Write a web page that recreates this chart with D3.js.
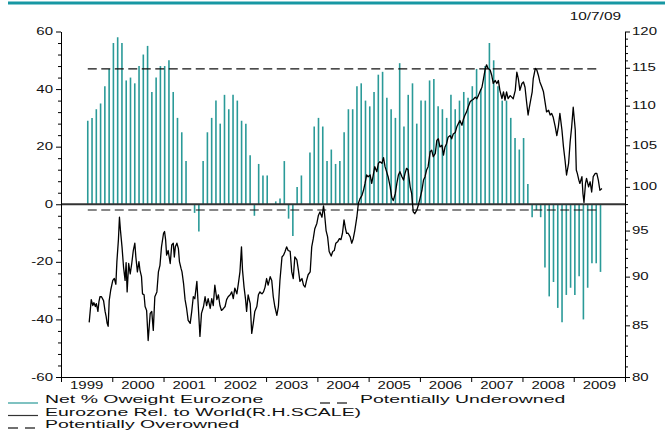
<!DOCTYPE html>
<html><head><meta charset="utf-8">
<script src="https://cdn.jsdelivr.net/npm/d3@7"></script>
<style>html,body{margin:0;padding:0;background:#fff;}svg{display:block;font-family:"Liberation Sans",Arial,sans-serif;}</style>
</head><body><svg id="c" width="665" height="430"></svg>
<script>
// ---------- DATA ----------
const dateLabel = "10/7/09";
const years = [1999,2000,2001,2002,2003,2004,2005,2006,2007,2008,2009];
const leftTicks = [-60,-40,-20,0,20,40,60];
const rightTicks = [80,85,90,95,100,105,110,115,120];
const barStartMonth = "1999-07";
// Net % overweight Eurozone, monthly from Jul 1999 to Jul 2009
const netOweight = [
 29,30,33,35,41,47,
 56,58,56,43,44,42,48,52,55,39,44,48,
 48,50,39,30,25,15,0,-3,-9.5,15,25,30,
 36,28,38,33,38,36,29,28,17,-4,14,10,
 10,0,1,2,15,-5,-11,6,10,0,18,27,
 30,27,15,19,14,15,25,33,33,41,42,36,
 34,39,45,46,37,33,30,49,27,38,42,28,
 36,36,43,43.5,34,33,30,38,33,36,39,37,
 41,47,40,48,56,50,41,36,36,30,23,19,
 23,7,-4.5,-2,-4.5,-22,-32,-27,-36,-41,-31.5,-29,
 -31.5,-25,-40,-29,-20.5,-20.5,-23.5
];
const overownedLevel = 47;
const underownedLevel = -2;
// Eurozone relative to World (right scale): [decimal year, value]
const relToWorld = [[1999.55,85.3],[1999.59,87.6],[1999.62,87.0],[1999.64,87.3],[1999.67,86.9],[1999.69,87.2],[1999.72,86.4],[1999.74,87.4],[1999.76,87.9],[1999.79,87.9],[1999.83,87.5],[1999.86,86.4],[1999.88,85.9],[1999.90,85.2],[1999.92,84.9],[1999.94,87.5],[1999.97,88.6],[2000.01,89.6],[2000.04,89.8],[2000.07,89.2],[2000.09,91.6],[2000.12,94.0],[2000.14,96.5],[2000.16,95.0],[2000.19,93.2],[2000.22,91.0],[2000.25,89.6],[2000.27,91.5],[2000.29,88.4],[2000.32,91.4],[2000.35,90.3],[2000.38,91.4],[2000.41,92.8],[2000.44,93.6],[2000.46,92.1],[2000.49,90.5],[2000.52,91.6],[2000.54,90.7],[2000.57,90.0],[2000.59,88.2],[2000.62,88.1],[2000.64,86.9],[2000.67,86.5],[2000.70,83.5],[2000.74,86.2],[2000.77,86.4],[2000.80,84.5],[2000.83,87.9],[2000.87,88.4],[2000.90,90.5],[2000.93,91.2],[2000.96,93.2],[2001.00,94.7],[2001.02,94.9],[2001.04,94.0],[2001.06,92.3],[2001.09,92.8],[2001.13,91.4],[2001.16,93.4],[2001.19,93.6],[2001.21,92.1],[2001.23,93.2],[2001.26,93.6],[2001.29,93.0],[2001.31,91.6],[2001.34,90.9],[2001.36,90.5],[2001.39,89.3],[2001.42,87.6],[2001.45,86.7],[2001.48,85.5],[2001.52,85.2],[2001.55,86.4],[2001.58,87.9],[2001.61,87.7],[2001.65,89.5],[2001.68,86.7],[2001.71,83.9],[2001.74,86.2],[2001.78,86.9],[2001.81,87.9],[2001.84,87.0],[2001.87,87.7],[2001.91,86.7],[2001.94,87.7],[2001.97,87.0],[2002.00,89.1],[2002.04,87.6],[2002.07,88.1],[2002.10,87.0],[2002.13,86.5],[2002.17,86.7],[2002.20,86.9],[2002.23,87.6],[2002.26,87.9],[2002.30,88.1],[2002.33,88.4],[2002.36,87.7],[2002.39,88.8],[2002.43,88.2],[2002.46,89.3],[2002.49,90.5],[2002.52,93.2],[2002.54,90.7],[2002.57,88.9],[2002.60,87.6],[2002.62,86.4],[2002.65,88.1],[2002.69,87.2],[2002.72,84.2],[2002.75,85.2],[2002.78,86.4],[2002.82,86.9],[2002.85,88.1],[2002.88,88.4],[2002.92,88.2],[2002.95,88.4],[2002.98,88.9],[2003.01,89.8],[2003.04,89.1],[2003.08,90.0],[2003.11,89.6],[2003.14,87.9],[2003.17,86.9],[2003.21,86.0],[2003.24,86.9],[2003.27,89.6],[2003.31,92.1],[2003.34,92.3],[2003.37,92.7],[2003.40,93.2],[2003.43,92.8],[2003.47,92.7],[2003.50,90.5],[2003.53,89.8],[2003.56,92.1],[2003.60,91.8],[2003.63,90.7],[2003.66,89.5],[2003.70,89.8],[2003.73,89.1],[2003.76,88.9],[2003.79,89.6],[2003.82,90.2],[2003.86,90.5],[2003.89,93.2],[2003.92,94.1],[2003.95,95.2],[2003.99,95.8],[2004.02,96.7],[2004.05,97.1],[2004.09,96.5],[2004.12,97.8],[2004.14,96.9],[2004.17,95.0],[2004.20,94.3],[2004.23,92.7],[2004.27,92.2],[2004.30,92.7],[2004.33,92.8],[2004.36,93.6],[2004.40,93.8],[2004.43,94.1],[2004.46,94.0],[2004.49,94.7],[2004.52,96.2],[2004.55,95.2],[2004.57,94.7],[2004.60,94.7],[2004.64,94.3],[2004.67,93.6],[2004.70,94.1],[2004.73,95.0],[2004.77,96.5],[2004.80,98.1],[2004.83,98.6],[2004.87,99.0],[2004.90,99.6],[2004.93,100.4],[2004.96,101.4],[2004.99,101.2],[2005.03,101.4],[2005.06,100.4],[2005.09,101.4],[2005.12,102.4],[2005.16,101.8],[2005.19,102.8],[2005.22,103.0],[2005.26,102.8],[2005.29,103.5],[2005.32,102.4],[2005.35,101.8],[2005.38,101.2],[2005.42,100.0],[2005.45,98.8],[2005.48,98.4],[2005.52,99.2],[2005.55,100.4],[2005.58,101.4],[2005.61,101.8],[2005.65,101.2],[2005.68,100.8],[2005.71,101.6],[2005.74,102.2],[2005.77,102.0],[2005.81,100.0],[2005.84,99.2],[2005.87,97.1],[2005.90,96.9],[2005.94,97.3],[2005.97,97.9],[2006.00,98.6],[2006.04,99.6],[2006.07,100.8],[2006.10,101.2],[2006.13,102.0],[2006.16,102.4],[2006.20,104.2],[2006.23,104.4],[2006.26,103.6],[2006.30,104.0],[2006.33,105.6],[2006.36,105.8],[2006.39,104.8],[2006.43,105.0],[2006.46,103.8],[2006.49,104.8],[2006.52,105.2],[2006.55,106.0],[2006.59,106.2],[2006.62,105.8],[2006.65,106.4],[2006.69,106.6],[2006.72,107.3],[2006.75,107.7],[2006.78,108.1],[2006.82,107.5],[2006.85,108.3],[2006.88,108.8],[2006.91,109.2],[2006.94,109.8],[2006.98,110.5],[2007.01,110.7],[2007.04,110.8],[2007.08,111.1],[2007.11,110.9],[2007.14,111.3],[2007.17,111.8],[2007.21,112.4],[2007.24,113.5],[2007.27,114.7],[2007.30,115.4],[2007.33,114.9],[2007.37,114.7],[2007.40,114.0],[2007.43,112.9],[2007.47,113.3],[2007.50,112.9],[2007.53,113.3],[2007.56,112.0],[2007.60,110.9],[2007.63,111.8],[2007.66,110.7],[2007.69,111.8],[2007.72,110.9],[2007.76,111.3],[2007.79,111.1],[2007.82,110.9],[2007.86,112.0],[2007.89,114.4],[2007.92,113.5],[2007.95,112.0],[2007.99,112.9],[2008.02,113.1],[2008.05,112.4],[2008.08,110.5],[2008.11,108.8],[2008.13,109.6],[2008.16,110.7],[2008.19,111.8],[2008.21,113.5],[2008.25,114.9],[2008.28,114.7],[2008.31,114.0],[2008.34,113.1],[2008.38,112.4],[2008.41,111.8],[2008.44,110.5],[2008.47,109.2],[2008.51,109.4],[2008.54,108.8],[2008.57,109.0],[2008.60,108.5],[2008.64,107.3],[2008.67,106.2],[2008.70,107.3],[2008.73,109.0],[2008.77,106.9],[2008.80,104.8],[2008.83,103.2],[2008.86,101.4],[2008.90,102.8],[2008.93,105.4],[2008.96,107.3],[2008.99,109.8],[2009.03,106.9],[2009.05,102.0],[2009.07,101.6],[2009.10,100.8],[2009.12,100.4],[2009.16,101.2],[2009.18,99.2],[2009.20,98.2],[2009.23,100.4],[2009.25,101.0],[2009.29,100.0],[2009.32,100.6],[2009.35,99.4],[2009.38,101.2],[2009.42,101.6],[2009.45,101.6],[2009.48,100.8],[2009.51,99.6],[2009.55,99.8]];
const legendItems = [
  {label:"Net % Oweight Eurozone", kind:"teal"},
  {label:"Eurozone Rel. to World(R.H.SCALE)", kind:"black"},
  {label:"Potentially Overowned", kind:"dash"},
  {label:"Potentially Underowned", kind:"dash"}
];

// ---------- STYLE ----------
const TEAL = "#2a9a98";
const svg = d3.select("#c");
const sxTick = 1.5, sxLeg = 1.8;

// ---------- SCALES ----------
const x = d3.scaleLinear().domain([1999, 2010]).range([61, 625]);
const yL = d3.scaleLinear().domain([-60, 60]).range([377, 31.5]);
const yR = d3.scaleLog().domain([80, 120]).range([377, 31.5]);

const parseM = d3.timeParse("%Y-%m");
const start = parseM(barStartMonth);
const months = netOweight.map((v, i) => d3.timeMonth.offset(start, i));
const decYear = d => d.getFullYear() + d.getMonth() / 12 + 0.022;
const bars = netOweight.map((v, i) => ({t: decYear(months[i]), v}));

function stext(g, px, py, str, size, sx, anchor) {
  return g.append("text")
    .attr("transform", `translate(${px},${py}) scale(${sx},1)`)
    .attr("font-size", size).attr("text-anchor", anchor || "start")
    .attr("fill", "#111").text(str);
}

// top rule
svg.append("line").attr("x1", 8).attr("x2", 665).attr("y1", 3).attr("y2", 3)
  .attr("stroke", "#1797a3").attr("stroke-width", 3);

// date label
stext(svg, 621, 20, dateLabel, 11, 1.4, "end");

// bars
svg.append("g").selectAll("line").data(bars.filter(d => d.v !== 0)).join("line")
  .attr("x1", d => x(d.t)).attr("x2", d => x(d.t))
  .attr("y1", yL(0)).attr("y2", d => yL(d.v))
  .attr("stroke", TEAL).attr("stroke-width", 1.6);

// zero line
svg.append("line").attr("x1", x(1999)).attr("x2", x(2010))
  .attr("y1", yL(0)).attr("y2", yL(0)).attr("stroke", "#333").attr("stroke-width", 1.8);

// dashed reference lines
const firstT = bars[0].t, lastT = bars[bars.length - 1].t;
[overownedLevel, underownedLevel].forEach(lv => {
  svg.append("path")
    .attr("d", d3.line().x(d => x(d[0])).y(d => yL(d[1]))([[firstT, lv], [lastT, lv]]))
    .attr("stroke", "#111").attr("stroke-width", 1.2).attr("stroke-dasharray", "9,4.5").attr("fill", "none");
});

// relative line
svg.append("path").datum(relToWorld)
  .attr("d", d3.line().x(d => x(d[0])).y(d => yR(d[1])))
  .attr("fill", "none").attr("stroke", "#000").attr("stroke-width", 1.3).attr("stroke-linejoin", "round");

// axes
function styleAxis(g) { g.selectAll("path,line").attr("stroke", "#000").attr("stroke-width", 1); g.selectAll("text").remove(); }
const minorL = d3.range(-60, 61, 4).filter(v => v % 20 !== 0);
svg.append("g").attr("transform", `translate(${x(1999)},0)`)
  .call(d3.axisLeft(yL).tickValues(leftTicks).tickSize(5).tickSizeOuter(0)).call(styleAxis);
svg.append("g").attr("transform", `translate(${x(1999)},0)`)
  .call(d3.axisLeft(yL).tickValues(minorL).tickSize(3).tickSizeOuter(0)).call(styleAxis);
const minorR = d3.range(81, 120, 1).filter(v => v % 5 !== 0);
svg.append("g").attr("transform", `translate(${x(2010)},0)`)
  .call(d3.axisRight(yR).tickValues(rightTicks).tickSize(5).tickSizeOuter(0)).call(styleAxis);
svg.append("g").attr("transform", `translate(${x(2010)},0)`)
  .call(d3.axisRight(yR).tickValues(minorR).tickSize(3).tickSizeOuter(0)).call(styleAxis);
svg.append("g").attr("transform", `translate(0,${yL(-60)})`)
  .call(d3.axisBottom(x).tickValues(d3.range(1999, 2011)).tickSize(5).tickSizeOuter(0)).call(styleAxis);

// tick labels
leftTicks.forEach(v => stext(svg, x(1999) - 8, yL(v) + 3.5, String(v), 10, sxTick, "end"));
rightTicks.forEach(v => stext(svg, x(2010) + 7, yR(v) + 3.5, String(v), 10, sxTick, "start"));
years.forEach(yr => stext(svg, x(yr + 0.5), 389, String(yr), 10, sxTick, "middle"));

// legend
const leg = svg.append("g");
const legRows = [{item: legendItems[0], lx: 8, tx: 45, y: 403},
                 {item: legendItems[1], lx: 8, tx: 45, y: 415.5},
                 {item: legendItems[2], lx: 8, tx: 45, y: 428},
                 {item: legendItems[3], lx: 320, tx: 360, y: 403}];
legRows.forEach(r => {
  if (r.item.kind === "dash") {
    leg.append("line").attr("x1", r.lx).attr("x2", r.lx + 10).attr("y1", r.y).attr("y2", r.y).attr("stroke", "#111").attr("stroke-width", 1.2);
    leg.append("line").attr("x1", r.lx + 17).attr("x2", r.lx + 27).attr("y1", r.y).attr("y2", r.y).attr("stroke", "#111").attr("stroke-width", 1.2);
  } else {
    leg.append("line").attr("x1", r.lx).attr("x2", r.lx + 30).attr("y1", r.y).attr("y2", r.y)
      .attr("stroke", r.item.kind === "teal" ? TEAL : "#333").attr("stroke-width", 1.2);
  }
  stext(leg, r.tx, r.y, r.item.label, 10.8, sxLeg, "start");
});
</script></body></html>
